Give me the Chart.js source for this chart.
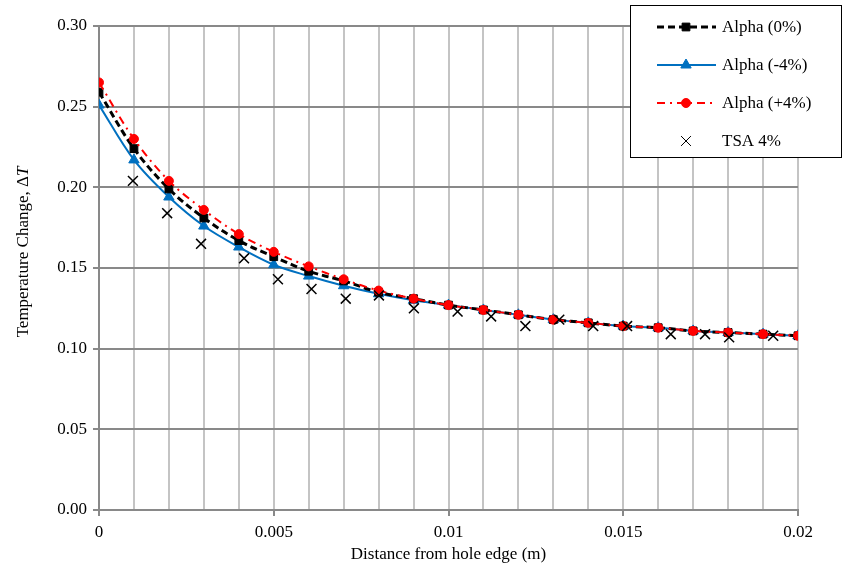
<!DOCTYPE html>
<html>
<head>
<meta charset="utf-8">
<script src="https://cdn.jsdelivr.net/npm/chart.js@4.4.0/dist/chart.umd.min.js"></script>
<style>
  html, body { margin: 0; padding: 0; background: #fff; }
  #wrap { width: 845px; height: 573px; }
</style>
</head>
<body>
<div id="wrap"><canvas id="chart" width="845" height="573"></canvas></div>
<script>
const _ = (id) => document.getElementById(id)

// distance from hole edge (m)
const distance = [0, 0.001, 0.002, 0.003, 0.004, 0.005, 0.006, 0.007, 0.008, 0.009, 0.01,
  0.011, 0.012, 0.013, 0.014, 0.015, 0.016, 0.017, 0.018, 0.019, 0.02]
const alpha0 = [0.259, 0.224, 0.199, 0.181, 0.167, 0.157, 0.148, 0.142, 0.135, 0.131, 0.127,
  0.124, 0.121, 0.118, 0.116, 0.114, 0.113, 0.111, 0.110, 0.109, 0.108]
const alphaMinus4 = [0.251, 0.217, 0.194, 0.176, 0.163, 0.152, 0.145, 0.139, 0.134, 0.130, 0.127,
  0.124, 0.121, 0.118, 0.116, 0.114, 0.113, 0.111, 0.110, 0.109, 0.108]
const alphaPlus4 = [0.265, 0.230, 0.204, 0.186, 0.171, 0.160, 0.151, 0.143, 0.136, 0.131, 0.127,
  0.124, 0.121, 0.118, 0.116, 0.114, 0.113, 0.111, 0.110, 0.109, 0.108]
const tsaX = [0.00097, 0.00195, 0.00292, 0.00415, 0.00512, 0.00608, 0.00706, 0.00801, 0.00901,
  0.01026, 0.01122, 0.0122, 0.01317, 0.01414, 0.01511, 0.01636, 0.01734, 0.01803, 0.01929]
const tsaY = [0.204, 0.184, 0.165, 0.156, 0.143, 0.137, 0.131, 0.133, 0.125,
  0.123, 0.120, 0.114, 0.118, 0.114, 0.114, 0.109, 0.109, 0.107, 0.108]
const xTicks = [0, 0.005, 0.01, 0.015, 0.02]
const yTicks = [0, 0.05, 0.1, 0.15, 0.2, 0.25, 0.3]

const serif = '"Liberation Serif", "Times New Roman", serif'
const axisGray = '#898989'
const minorGray = '#c4c4c4'

const toPoints = (xs, ys) => xs.map((x, i) => ({ x: x, y: ys[i] }))

// legend drawn as a framed box in the top right corner
const legendBox = {
  id: 'legendBox',
  afterDraw(chart) {
    const ctx = chart.ctx
    ctx.save()
    ctx.fillStyle = '#fff'
    ctx.fillRect(630, 5, 212, 153)
    ctx.strokeStyle = '#000'
    ctx.lineWidth = 1
    ctx.strokeRect(630.5, 5.5, 211, 152)
    chart.data.datasets.forEach((ds, i) => {
      const y = 27 + i * 38
      if (ds.showLine !== false) {
        ctx.save()
        ctx.strokeStyle = ds.borderColor
        ctx.lineWidth = ds.borderWidth
        ctx.setLineDash(ds.borderDash || [])
        ctx.beginPath()
        ctx.moveTo(657, y)
        ctx.lineTo(716, y)
        ctx.stroke()
        ctx.restore()
      }
      ctx.save()
      ctx.fillStyle = ds.pointBackgroundColor
      ctx.strokeStyle = ds.pointBorderColor
      ctx.setLineDash([])
      Chart.helpers.drawPoint(ctx, {
        pointStyle: ds.pointStyle,
        radius: ds.pointRadius,
        borderWidth: ds.pointBorderWidth,
        rotation: 0,
      }, 686, y)
      ctx.restore()
      ctx.fillStyle = '#000'
      ctx.font = '17px ' + serif
      ctx.textBaseline = 'middle'
      ctx.textAlign = 'left'
      ctx.fillText(ds.label, 722, y + 1)
    })
    ctx.restore()
  },
}

// y axis title with italic T
const yTitle = {
  id: 'yTitle',
  afterDraw(chart) {
    const ctx = chart.ctx
    const plain = 'Temperature Change, \u0394'
    const italic = 'T'
    ctx.save()
    ctx.translate(24, 252)
    ctx.rotate(-Math.PI / 2)
    ctx.fillStyle = '#000'
    ctx.textBaseline = 'middle'
    ctx.textAlign = 'left'
    ctx.font = '17px ' + serif
    const w1 = ctx.measureText(plain).width
    ctx.font = 'italic 17px ' + serif
    const w2 = ctx.measureText(italic).width
    const start = -(w1 + w2) / 2
    ctx.font = '17px ' + serif
    ctx.fillText(plain, start, 0)
    ctx.font = 'italic 17px ' + serif
    ctx.fillText(italic, start + w1, 0)
    ctx.restore()
  },
}

new Chart(_('chart'), {
  type: 'line',
  data: {
    datasets: [
      {
        label: 'Alpha (0%)',
        data: toPoints(distance, alpha0),
        borderColor: '#000',
        borderWidth: 3,
        borderDash: [7, 4],
        pointStyle: 'rect',
        pointRadius: 5.5,
        pointBorderWidth: 1,
        pointBackgroundColor: '#000',
        pointBorderColor: '#000',
        tension: 0.35,
        order: 2,
      },
      {
        label: 'Alpha (-4%)',
        data: toPoints(distance, alphaMinus4),
        borderColor: '#0070c0',
        borderWidth: 2,
        pointStyle: 'triangle',
        pointRadius: 6,
        pointBorderWidth: 1,
        pointBackgroundColor: '#0070c0',
        pointBorderColor: '#0070c0',
        tension: 0.35,
        order: 3,
      },
      {
        label: 'Alpha (+4%)',
        data: toPoints(distance, alphaPlus4),
        borderColor: '#ff0000',
        borderWidth: 2,
        borderDash: [8, 5, 2, 5],
        pointStyle: 'circle',
        pointRadius: 4.5,
        pointBorderWidth: 1,
        pointBackgroundColor: '#ff0000',
        pointBorderColor: '#ff0000',
        tension: 0.35,
        order: 1,
      },
      {
        label: 'TSA 4%',
        data: toPoints(tsaX, tsaY),
        showLine: false,
        pointStyle: 'crossRot',
        pointRadius: 7,
        pointBorderWidth: 1.5,
        pointBackgroundColor: '#000',
        pointBorderColor: '#000',
        order: 0,
      },
    ],
  },
  options: {
    responsive: false,
    animation: false,
    layout: { padding: { top: 26, right: 47, left: 0, bottom: 0 } },
    plugins: {
      legend: { display: false },
      tooltip: { enabled: false },
    },
    scales: {
      x: {
        type: 'linear',
        min: 0,
        max: 0.02,
        afterFit: (scale) => { scale.height = 63 },
        afterBuildTicks: (scale) => {
          scale.ticks = distance.map((v) => ({ value: v }))
        },
        ticks: {
          autoSkip: false,
          maxRotation: 0,
          padding: 6,
          color: '#000',
          font: { family: serif, size: 17 },
          callback: (v) => {
            const hit = xTicks.find((t) => Math.abs(t - v) < 1e-9)
            return hit === undefined ? '' : String(hit)
          },
        },
        grid: {
          color: minorGray,
          lineWidth: 2,
          tickLength: 6,
          tickColor: (c) => xTicks.some((t) => Math.abs(t - c.tick.value) < 1e-9) ? axisGray : 'rgba(0,0,0,0)',
          tickWidth: 2,
        },
        border: { color: axisGray, width: 2 },
        title: {
          display: true,
          text: 'Distance from hole edge (m)',
          color: '#000',
          font: { family: serif, size: 17 },
          padding: { top: 0, bottom: 8 },
        },
      },
      y: {
        min: 0,
        max: 0.3,
        afterFit: (scale) => { scale.width = 99 },
        afterBuildTicks: (scale) => {
          scale.ticks = yTicks.map((v) => ({ value: v }))
        },
        ticks: {
          padding: 6,
          color: '#000',
          font: { family: serif, size: 17 },
          callback: (v) => v.toFixed(2),
        },
        grid: {
          color: axisGray,
          lineWidth: 2,
          tickLength: 6,
          tickColor: axisGray,
          tickWidth: 2,
        },
        border: { color: axisGray, width: 2 },
      },
    },
  },
  plugins: [yTitle, legendBox],
})
</script>
</body>
</html>
